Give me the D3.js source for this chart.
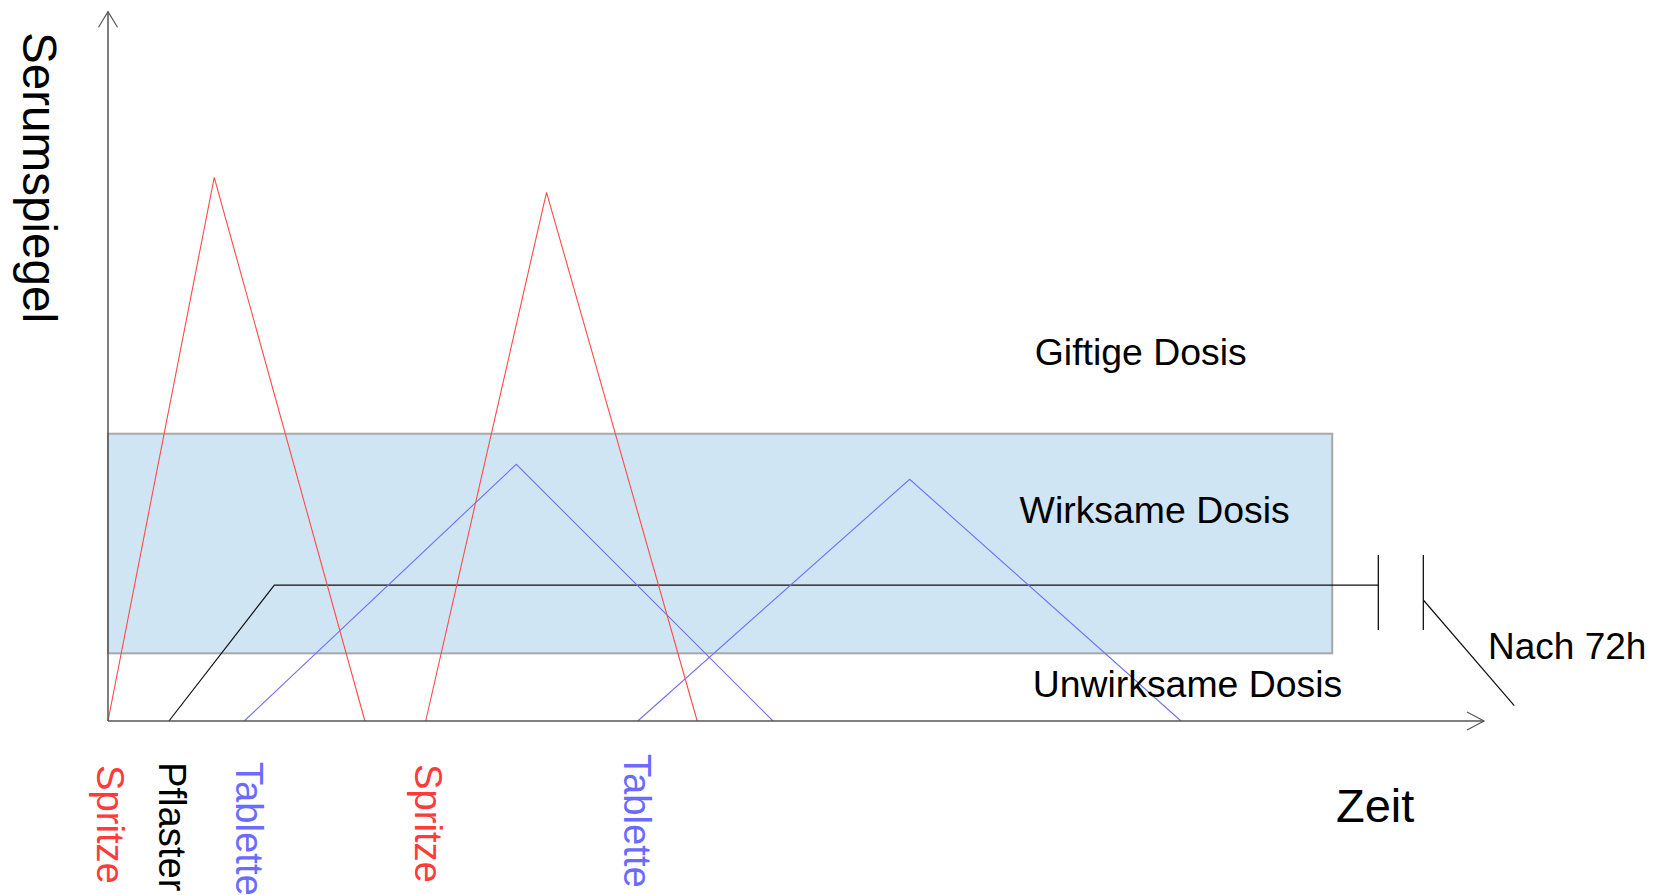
<!DOCTYPE html>
<html>
<head>
<meta charset="utf-8">
<script src="https://cdn.jsdelivr.net/npm/d3@7"></script>
<style>
  html, body { margin: 0; padding: 0; background: #ffffff; }
  svg { display: block; }
  text { font-family: "Liberation Sans", Arial, sans-serif; }
</style>
</head>
<body>
<script>
// ---------- data (time units along x, serum level units along y) ----------
const injection1 = [[0, 0], [7.72, 76.65], [18.67, 0]];
const injection2 = [[23.09, 0], [31.87, 74.54], [42.82, 0]];
const tablet1    = [[9.9, 0], [29.67, 36.19], [48.33, 0]];
const tablet2    = [[38.5, 0], [58.26, 34.08], [77.98, 0]];
const patch      = [[4.43, 0], [12.09, 19.17], [92.32, 19.17]];
const patchBreak = [92.32, 95.59];         // axis-break bars (time)
const breakBar   = [12.83, 23.4];          // axis-break bar extent (level)
const patchAfter = [[95.59, 17.06], [102.2, 2.16]];
const effectiveBand = { x0: 0, x1: 88.97, y0: 9.54, y1: 40.5 };

const eventNames  = ["Spritze", "Pflaster", "Tablette", "Spritze", "Tablette"];
const eventTimes  = [0, 4.43, 9.9, 23.09, 38.5];
const eventKinds  = ["inj", "patch", "tab", "inj", "tab"];

const zoneLabels  = ["Giftige Dosis", "Wirksame Dosis", "Unwirksame Dosis"];
const zoneLevels  = [50.2, 27.9, 3.4];
const zoneTimes   = [67.35, 66.25, 67.2];
const xTitle = "Zeit", yTitle = "Serumspiegel", afterLabel = "Nach 72h";

// ---------- layout ----------
const W = 1656, H = 895;
const x = d3.scaleLinear().domain([0, 100]).range([108, 1484]);
const y = d3.scaleLinear().domain([0, 100]).range([721, 11.7]);

// small per-label placement nudges (layout only)
const labelNudgeX = [-1, 0, 2, -1, -4];
const labelTopY   = [765, 762, 762, 764, 754];

const colors = { inj: "#ff3b3b", tab: "#6b6bff", patch: "#000000" };
const lineColors = { inj: "#ff4a4a", tab: "#7070ff", patch: "#111111" };

const svg = d3.select("body").append("svg").attr("width", W).attr("height", H);
svg.append("rect").attr("width", W).attr("height", H).attr("fill", "#fff");

// effective-dose band
svg.append("rect")
  .attr("x", x(effectiveBand.x0))
  .attr("y", y(effectiveBand.y1))
  .attr("width", x(effectiveBand.x1) - x(effectiveBand.x0))
  .attr("height", y(effectiveBand.y0) - y(effectiveBand.y1))
  .attr("fill", "#cfe5f3")
  .attr("stroke", "#a8a8a8")
  .attr("stroke-width", 2);

const line = d3.line().x(d => x(d[0])).y(d => y(d[1]));

// patch (black)
svg.append("path").datum(patch).attr("d", line)
  .attr("fill", "none").attr("stroke", lineColors.patch).attr("stroke-width", 1.2);
patchBreak.forEach(t => {
  svg.append("line")
    .attr("x1", x(t)).attr("x2", x(t))
    .attr("y1", y(breakBar[0])).attr("y2", y(breakBar[1]))
    .attr("stroke", "#111").attr("stroke-width", 1.3);
});
svg.append("path").datum(patchAfter).attr("d", line)
  .attr("fill", "none").attr("stroke", "#111").attr("stroke-width", 1.2);

// tablets (blue)
[tablet1, tablet2].forEach(s => {
  svg.append("path").datum(s).attr("d", line)
    .attr("fill", "none").attr("stroke", lineColors.tab).attr("stroke-width", 1.1);
});
// injections (red)
[injection1, injection2].forEach(s => {
  svg.append("path").datum(s).attr("d", line)
    .attr("fill", "none").attr("stroke", lineColors.inj).attr("stroke-width", 1.1);
});

// axes with open arrowheads
const axisColor = "#555";
svg.append("line").attr("x1", x(0)).attr("y1", y(0)).attr("x2", x(0)).attr("y2", y(100))
  .attr("stroke", axisColor).attr("stroke-width", 1.5);
svg.append("path")
  .attr("d", `M${x(0) - 9.5},${y(100) + 15.5}L${x(0)},${y(100)}L${x(0) + 9.5},${y(100) + 15.5}`)
  .attr("fill", "none").attr("stroke", axisColor).attr("stroke-width", 1.2);
svg.append("line").attr("x1", x(0)).attr("y1", y(0)).attr("x2", x(100)).attr("y2", y(0))
  .attr("stroke", axisColor).attr("stroke-width", 1.5);
svg.append("path")
  .attr("d", `M${x(100) - 17},${y(0) - 9}L${x(100)},${y(0)}L${x(100) - 17},${y(0) + 9}`)
  .attr("fill", "none").attr("stroke", axisColor).attr("stroke-width", 1.2);

// zone labels
zoneLabels.forEach((t, i) => {
  svg.append("text").attr("x", x(zoneTimes[i])).attr("y", y(zoneLevels[i]))
    .attr("font-size", 37.4).attr("fill", "#000").text(t);
});

// after-72h label
svg.append("text").attr("x", 1488).attr("y", 659)
  .attr("font-size", 37).attr("fill", "#000").text(afterLabel);

// axis titles
svg.append("text").attr("x", 1336).attr("y", 822)
  .attr("font-size", 47).attr("fill", "#000").text(xTitle);
svg.append("text").attr("transform", "translate(23,32) rotate(90)")
  .attr("font-size", 47.6).attr("fill", "#000").text(yTitle);

// event labels (rotated)
eventNames.forEach((n, i) => {
  svg.append("text")
    .attr("transform", `translate(${x(eventTimes[i]) - 10 + labelNudgeX[i]},${labelTopY[i]}) rotate(90)`)
    .attr("font-size", 38.2)
    .attr("fill", colors[eventKinds[i]])
    .text(n);
});
</script>
</body>
</html>
